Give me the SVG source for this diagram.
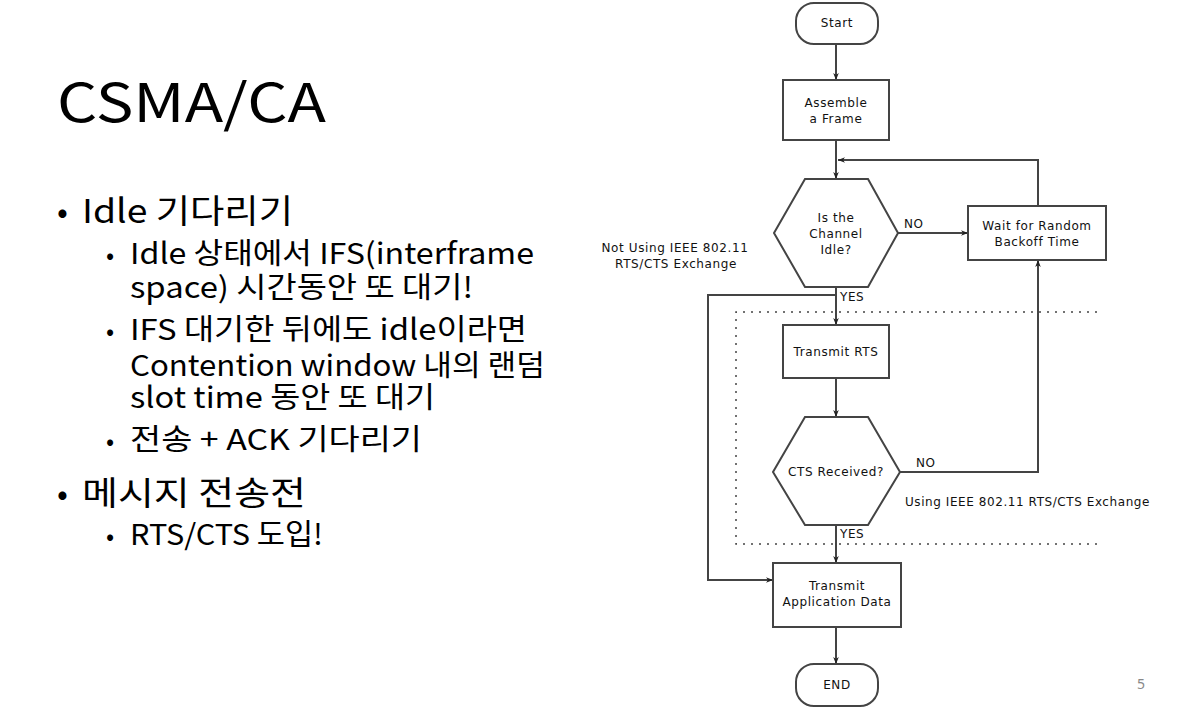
<svg xmlns="http://www.w3.org/2000/svg" width="1186" height="713" viewBox="0 0 1186 713">
<defs>
<style>
.box{fill:#fff;stroke:#444;stroke-width:2}
.ln{fill:none;stroke:#444;stroke-width:2}
.dot{fill:none;stroke:#444;stroke-width:1.5;stroke-dasharray:2 6}
.ft{font-family:"DejaVu Sans",sans-serif;font-size:12px;letter-spacing:0.6px;fill:#111;text-anchor:middle}
.lb{font-family:"DejaVu Sans",sans-serif;font-size:12px;letter-spacing:0.6px;fill:#111}
.kt{font-family:"Noto Sans CJK KR","Noto Sans",sans-serif;fill:#000}
.s{font-size:29px}
.m{font-size:33px}
</style>
<marker id="ah" viewBox="0 0 10 10" refX="10" refY="5" markerWidth="7" markerHeight="7" orient="auto" markerUnits="userSpaceOnUse">
<path d="M0,1 L10,5 L0,9 L3,5 Z" fill="#222"/>
</marker>
</defs>
<rect width="1186" height="713" fill="#fff"/>

<g id="slide-text">
<text class="kt" x="57" y="122" font-size="53" textLength="269" lengthAdjust="spacingAndGlyphs">CSMA/CA</text>
<text class="kt" x="57" y="223" font-size="32">•</text>
<text class="kt m" x="82" y="223" textLength="211" lengthAdjust="spacingAndGlyphs">Idle 기다리기</text>
<text class="kt" x="106" y="264" font-size="24">•</text>
<text class="kt s" x="130" y="264" textLength="404" lengthAdjust="spacingAndGlyphs">Idle 상태에서 IFS(interframe</text>
<text class="kt s" x="130" y="298" textLength="343" lengthAdjust="spacingAndGlyphs">space) 시간동안 또 대기!</text>
<text class="kt" x="106" y="340" font-size="24">•</text>
<text class="kt s" x="130" y="340" textLength="397" lengthAdjust="spacingAndGlyphs">IFS 대기한 뒤에도 idle이라면</text>
<text class="kt s" x="130" y="376" textLength="415" lengthAdjust="spacingAndGlyphs">Contention window 내의 랜덤</text>
<text class="kt s" x="130" y="408" textLength="305" lengthAdjust="spacingAndGlyphs">slot time 동안 또 대기</text>
<text class="kt" x="106" y="450" font-size="24">•</text>
<text class="kt s" x="130" y="450" textLength="292" lengthAdjust="spacingAndGlyphs">전송 + ACK 기다리기</text>
<text class="kt" x="57" y="505" font-size="32">•</text>
<text class="kt m" x="82" y="505" textLength="224" lengthAdjust="spacingAndGlyphs">메시지 전송전</text>
<text class="kt" x="106" y="545" font-size="24">•</text>
<text class="kt s" x="130" y="545" textLength="193" lengthAdjust="spacingAndGlyphs">RTS/CTS 도입!</text>
<text x="1137" y="689" font-family="Noto Sans, sans-serif" font-size="14" fill="#888">5</text>
</g>

<g id="connectors">
<line class="ln" x1="836" y1="44" x2="836" y2="80" marker-end="url(#ah)"/>
<line class="ln" x1="836" y1="140" x2="836" y2="179" marker-end="url(#ah)"/>
<polyline class="ln" points="1038,206 1038,160 838,160" marker-end="url(#ah)"/>
<line class="ln" x1="898" y1="233" x2="968" y2="233" marker-end="url(#ah)"/>
<line class="ln" x1="836" y1="287" x2="836" y2="325" marker-end="url(#ah)"/>
<polyline class="ln" points="836,295 708,295 708,580 773,580" marker-end="url(#ah)"/>
<line class="ln" x1="836" y1="378" x2="836" y2="417" marker-end="url(#ah)"/>
<polyline class="ln" points="900,472 1038,472 1038,260" marker-end="url(#ah)"/>
<line class="ln" x1="836" y1="525" x2="836" y2="563" marker-end="url(#ah)"/>
<line class="ln" x1="836" y1="627" x2="836" y2="664" marker-end="url(#ah)"/>
<polyline class="dot" points="1097,312 736,312 736,544 1097,544"/>
<text class="lb" x="904" y="228">NO</text>
<text class="lb" x="840" y="301">YES</text>
<text class="lb" x="916" y="467">NO</text>
<text class="lb" x="840" y="538">YES</text>
<text class="ft" x="675" y="252">Not Using IEEE 802.11</text>
<text class="ft" x="676" y="268">RTS/CTS Exchange</text>
<text class="lb" x="905" y="506" textLength="245">Using IEEE 802.11 RTS/CTS Exchange</text>
</g>

<g id="start">
<rect class="box" x="796" y="3" width="82" height="41" rx="18"/>
<text class="ft" x="837" y="27">Start</text>
</g>
<g id="assemble">
<rect class="box" x="783" y="80" width="106" height="60"/>
<text class="ft" x="836" y="107">Assemble</text>
<text class="ft" x="836" y="123">a Frame</text>
</g>
<g id="channel-idle">
<polygon class="box" points="805,179 868,179 898,233 868,287 805,287 774,233"/>
<text class="ft" x="836" y="222">Is the</text>
<text class="ft" x="836" y="238">Channel</text>
<text class="ft" x="836" y="254">Idle?</text>
</g>
<g id="wait-backoff">
<rect class="box" x="968" y="206" width="138" height="54"/>
<text class="ft" x="1037" y="230">Wait for Random</text>
<text class="ft" x="1037" y="246">Backoff Time</text>
</g>
<g id="transmit-rts">
<rect class="box" x="783" y="325" width="106" height="53"/>
<text class="ft" x="836" y="356">Transmit RTS</text>
</g>
<g id="cts-received">
<polygon class="box" points="805,417 868,417 900,472 868,525 805,525 773,472"/>
<text class="ft" x="836" y="476">CTS Received?</text>
</g>
<g id="transmit-data">
<rect class="box" x="773" y="563" width="128" height="64"/>
<text class="ft" x="837" y="590">Transmit</text>
<text class="ft" x="837" y="606">Application Data</text>
</g>
<g id="end">
<rect class="box" x="796" y="664" width="82" height="42" rx="18"/>
<text class="ft" x="837" y="689">END</text>
</g>
</svg>
